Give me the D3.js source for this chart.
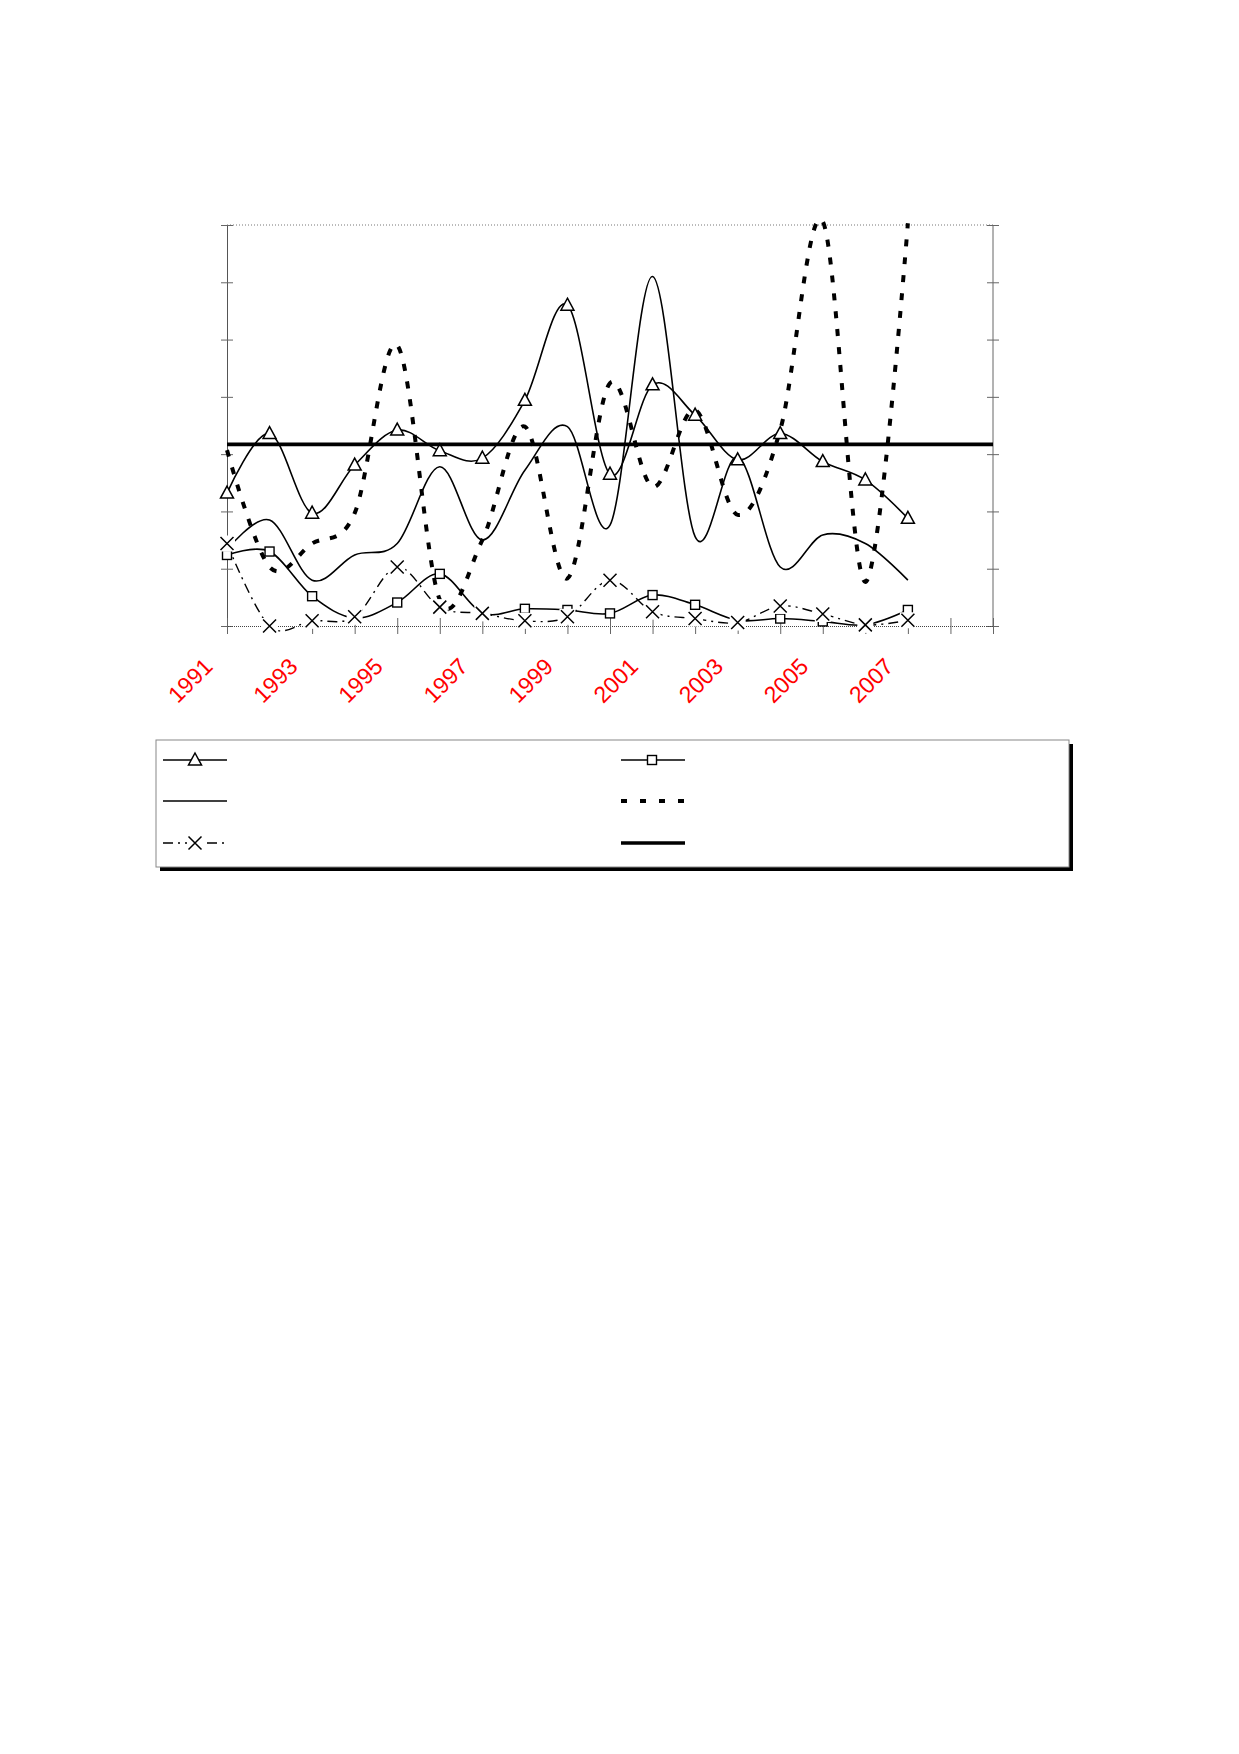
<!DOCTYPE html>
<html>
<head>
<meta charset="utf-8">
<script src="https://cdn.jsdelivr.net/npm/d3@7"></script>
<style>
  body { margin: 0; background: #fff; }
  svg { display: block; }
</style>
</head>
<body>
<div id="chart"></div>
<script>
// chart values (no axis labels, so arbitrary 0..70 units)
let years = [1991,1992,1993,1994,1995,1996,1997,1998,1999,2000,2001,2002,2003,2004,2005,2006,2007];
let allYears = [1991,1992,1993,1994,1995,1996,1997,1998,1999,2000,2001,2002,2003,2004,2005,2006,2007,2008,2009];
let tickLabels = ["1991","1993","1995","1997","1999","2001","2003","2005","2007"];
let yTicks = [0,10,20,30,40,50,60,70];

let triangleSeries = [23.2,33.6,19.7,28.1,34.2,30.6,29.3,39.4,56.0,26.5,42.1,36.8,29.0,33.6,28.7,25.5,18.8];
let plainSeries    = [13.3,18.5,8.0,12.4,14.4,27.8,15.0,27.2,34.8,17.6,61.0,15.6,29.5,10.3,15.9,14.4,8.0];
let crossSeries    = [14.4,0.0,0.9,1.6,10.3,3.3,2.2,0.9,1.6,8.0,2.5,1.3,0.6,3.5,2.1,0.2,1.0];
let squareSeries   = [12.4,13.0,5.2,1.4,4.1,9.1,2.3,3.0,2.8,2.2,5.4,3.7,1.0,1.3,0.8,0.2,2.8];
let dottedSeries   = [30.7,10.3,14.4,19.7,49.0,4.6,15.0,34.8,8.3,42.4,24.3,37.7,19.4,34.2,70.6,7.7,70.3];
let meanSeries     = [31.7,31.7,31.7,31.7,31.7,31.7,31.7,31.7,31.7,31.7,31.7,31.7,31.7,31.7,31.7,31.7,31.7,31.7,31.7];

let svg = d3.select("#chart").append("svg").attr("width",1239).attr("height",1754);

let x = d3.scaleLinear().domain([1991,2009]).range([227,993]);
let y = d3.scaleLinear().domain([0,70]).range([626,225]);

let smooth = d3.curveCardinal.tension(0);

// frame: top dotted line, right axis
svg.append("line").attr("x1",x(1991)).attr("x2",x(2009)).attr("y1",y(70)).attr("y2",y(70))
   .attr("stroke","#777").attr("stroke-width",1).attr("stroke-dasharray","1,2");
svg.append("line").attr("x1",x(2009)).attr("x2",x(2009)).attr("y1",y(70)).attr("y2",y(0))
   .attr("stroke","#666").attr("stroke-width",1);

// left y axis, no labels, ticks crossing the line
let yAxis = svg.append("g").attr("transform","translate("+x(1991)+",0)")
   .call(d3.axisLeft(y).tickValues(yTicks).tickSize(6).tickFormat(""));
yAxis.select(".domain").attr("stroke","#555");
yAxis.selectAll(".tick line").attr("x1",-6).attr("x2",6).attr("stroke","#666");

// right side ticks
let yAxisR = svg.append("g").attr("transform","translate("+x(2009)+",0)")
   .call(d3.axisRight(y).tickValues(yTicks).tickSize(6).tickFormat(""));
yAxisR.select(".domain").remove();
yAxisR.selectAll(".tick line").attr("x1",-6).attr("x2",6).attr("stroke","#666");

// x axis
let xAxis = svg.append("g").attr("transform","translate(0,"+y(0)+")")
   .call(d3.axisBottom(x).tickValues(allYears).tickSize(8).tickFormat(""));
xAxis.select(".domain").attr("stroke","#444").attr("stroke-dasharray","1,1");
xAxis.selectAll(".tick line").attr("y1",-8).attr("y2",8).attr("stroke","#666");

svg.append("g").selectAll("text")
  .data(tickLabels)
  .enter().append("text")
    .attr("transform",function(d){ return "translate("+(x(+d)-13)+","+(y(0)+42)+") rotate(-45)"; })
    .attr("text-anchor","end")
    .attr("font-family","'Liberation Sans', Arial, sans-serif")
    .attr("font-size","23px")
    .attr("fill","#ff0000")
    .text(function(d){ return d; });

// series lines
let line = d3.line()
  .x(function(d,i){ return x(years[i]); })
  .y(function(d){ return y(d); })
  .curve(smooth);

let lineAll = d3.line()
  .x(function(d,i){ return x(allYears[i]); })
  .y(function(d){ return y(d); });

function drawLine(data, width, dash, gen) {
  svg.append("path")
    .attr("fill","none")
    .attr("stroke","#000")
    .attr("stroke-width",width)
    .attr("stroke-dasharray",dash)
    .attr("stroke-linejoin","round")
    .attr("d",(gen || line)(data));
}

drawLine(triangleSeries, 1.6, null);
drawLine(plainSeries, 1.6, null);
drawLine(squareSeries, 1.6, null);
drawLine(crossSeries, 1.4, "10,5,2,5");
drawLine(dottedSeries, 4, "7,11");

// markers
function triangle(g, cx, cy) {
  g.append("path")
    .attr("d","M"+cx+","+(cy-7)+"L"+(cx+6.5)+","+(cy+5)+"L"+(cx-6.5)+","+(cy+5)+"Z")
    .attr("fill","#fff").attr("stroke","#000").attr("stroke-width",1.5);
}
function square(g, cx, cy) {
  g.append("rect").attr("x",cx-4.5).attr("y",cy-4.5).attr("width",9).attr("height",9)
    .attr("fill","#fff").attr("stroke","#000").attr("stroke-width",1.4);
}
function cross(g, cx, cy) {
  g.append("rect").attr("x",cx-8).attr("y",cy-8).attr("width",16).attr("height",16).attr("fill","#fff");
  g.append("path")
    .attr("d","M"+(cx-6.5)+","+(cy-6.5)+"L"+(cx+6.5)+","+(cy+6.5)+"M"+(cx+6.5)+","+(cy-6.5)+"L"+(cx-6.5)+","+(cy+6.5))
    .attr("stroke","#000").attr("stroke-width",1.5);
}

let markerGroup = svg.append("g");
squareSeries.forEach(function(d,i){ square(markerGroup, x(years[i]), y(d)); });
crossSeries.forEach(function(d,i){ cross(markerGroup, x(years[i]), y(d)); });
triangleSeries.forEach(function(d,i){ triangle(markerGroup, x(years[i]), y(d)); });

// thick mean line on top
drawLine(meanSeries, 3.6, null, lineAll);

// legend (symbols only)
let legend = svg.append("g");
legend.append("rect").attr("x",160).attr("y",744).attr("width",913).attr("height",127).attr("fill","#000");
legend.append("rect").attr("x",156).attr("y",740).attr("width",913).attr("height",127)
  .attr("fill","#fff").attr("stroke","#888").attr("stroke-width",1);

let legendRows = [760,801,843];
let legendCols = [163,621];

function legendLine(lx, ly, width, dash) {
  legend.append("line").attr("x1",lx).attr("x2",lx+64).attr("y1",ly).attr("y2",ly)
    .attr("stroke","#000").attr("stroke-width",width).attr("stroke-dasharray",dash);
}

legendLine(legendCols[0], legendRows[0], 1.6, null);
triangle(legend, legendCols[0]+32, legendRows[0]);
legendLine(legendCols[0], legendRows[1], 1.6, null);
legendLine(legendCols[0], legendRows[2], 1.4, "10,5,2,5");
cross(legend, legendCols[0]+32, legendRows[2]);

legendLine(legendCols[1], legendRows[0], 1.6, null);
square(legend, legendCols[1]+31, legendRows[0]);
legendLine(legendCols[1], legendRows[1], 4, "6,13");
legendLine(legendCols[1], legendRows[2], 3.6, null);
</script>
</body>
</html>
